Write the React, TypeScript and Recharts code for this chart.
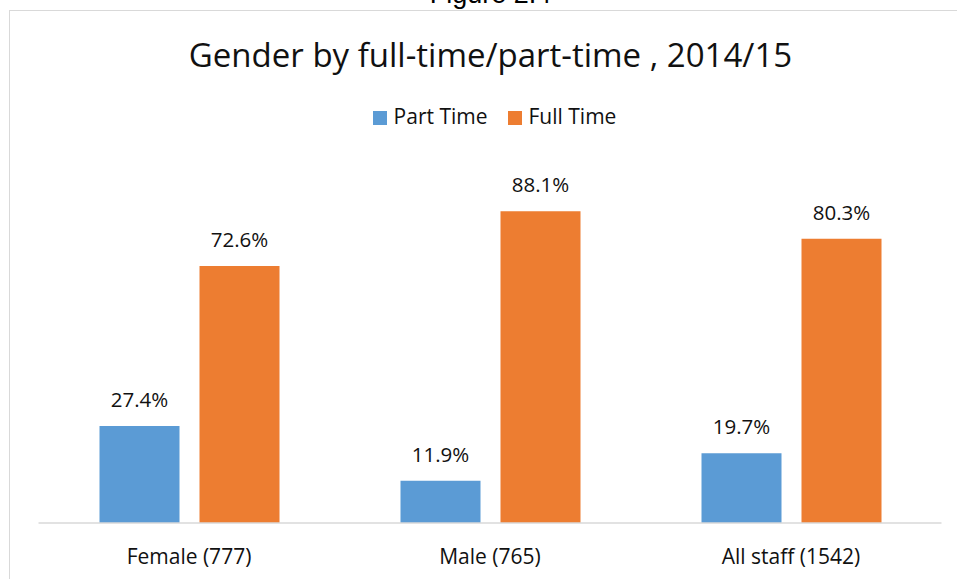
import React from "react";
import { BarChart, Bar, XAxis, YAxis, Legend, LabelList } from "recharts";

const FONT = "'Open Sans', 'Noto Sans', sans-serif";
const BLUE = "#5b9bd5", ORANGE = "#ed7d31";
const GRID = "#d9d9d9", TX = "#111";

const categories = ["Female (777)", "Male (765)", "All staff (1542)"];
const partTime = [27.4, 11.9, 19.7];
const fullTime = [72.6, 88.1, 80.3];
const seriesOrder = ["Part Time", "Full Time"];

const data = categories.map((name, i) => ({
  name, partTime: partTime[i], fullTime: fullTime[i],
}));

const pct = (v: unknown) => `${Number(v).toFixed(1)}%`;

export default function App() {
  return (
    <div style={{ position: "absolute", left: 0, top: 0, width: 957, height: 579,
      overflow: "hidden", background: "#fff", fontFamily: FONT }}>
      {/* caption from the page above, cut off */}
      <div style={{ position: "absolute", left: 0, width: 981, top: -21, textAlign: "center",
        fontFamily: "'Liberation Sans', Arial, sans-serif", fontSize: 27, color: "#000",
        lineHeight: "30px" }}>
        Figure 2.4
      </div>
      {/* chart frame */}
      <div style={{ position: "absolute", left: 9, top: 10, width: 980, height: 600,
        border: `1.5px solid ${GRID}` }} />
      <div style={{ position: "absolute", left: 0, top: 34, width: 981, textAlign: "center",
        fontSize: 33, color: TX, lineHeight: "42px" }}>
        Gender by full-time/part-time , 2014/15
      </div>
      <div style={{ position: "absolute", left: 0, top: 0 }}>
        <BarChart width={957} height={579} data={data}
          margin={{ top: 169, right: 15.5, bottom: 26, left: 38.5 }}
          barSize={80} barGap={20} barCategoryGap={60}>
          <XAxis dataKey="name" height={30} tickLine={false} tickSize={0} tickMargin={26}
            axisLine={{ stroke: GRID, strokeWidth: 1.5 }}
            tick={{ fontSize: 21, fill: TX, fontFamily: FONT }} />
          <YAxis hide width={0} domain={[0, 100]} />
          <Legend layout="horizontal" verticalAlign="middle" align="center"
            iconType="square" iconSize={14}
            itemSorter={(item: any) => seriesOrder.indexOf(item.value)}
            wrapperStyle={{ top: 102, left: 14, width: 981, fontSize: 21, fontFamily: FONT }}
            formatter={(v: string) => (
              <span style={{ color: TX, marginLeft: 3, marginRight: 10 }}>{v}</span>
            )} />
          <Bar dataKey="partTime" name="Part Time" fill={BLUE} isAnimationActive={false}>
            <LabelList dataKey="partTime" position="top" offset={19} formatter={pct}
              style={{ fontSize: 20.5, fill: TX, fontFamily: FONT }} />
          </Bar>
          <Bar dataKey="fullTime" name="Full Time" fill={ORANGE} isAnimationActive={false}>
            <LabelList dataKey="fullTime" position="top" offset={19} formatter={pct}
              style={{ fontSize: 20.5, fill: TX, fontFamily: FONT }} />
          </Bar>
        </BarChart>
      </div>
    </div>
  );
}
